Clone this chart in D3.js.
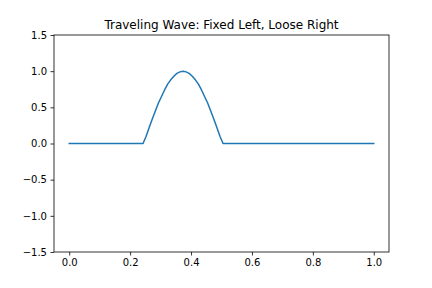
<!DOCTYPE html>
<html>
<head>
<meta charset="utf-8">
<script src="https://cdn.jsdelivr.net/npm/d3@7"></script>
<style>
  body { margin: 0; background: #fff; }
  svg { display: block; font-family: "DejaVu Sans", sans-serif; }
</style>
</head>
<body>
<div id="chart"></div>
<script>
// snapshot of the wave, flat parts only need their end points
var waveX = [0.0, 0.2424, 0.2525, 0.2626, 0.2727, 0.2828, 0.2929, 0.3030, 0.3131, 0.3232, 0.3333,
             0.3434, 0.3535, 0.3636, 0.3737, 0.3838, 0.3939, 0.4040, 0.4141, 0.4242, 0.4343,
             0.4444, 0.4545, 0.4646, 0.4747, 0.4848, 0.4949, 0.5051, 1.0];
var waveY = [0.0, 0.0, 0.10, 0.22, 0.34, 0.45, 0.56, 0.65, 0.74, 0.82, 0.88,
             0.93, 0.97, 0.99, 1.0, 0.99, 0.97, 0.93, 0.88, 0.82, 0.74,
             0.65, 0.56, 0.45, 0.34, 0.22, 0.10, 0.0, 0.0];
var xTicks = [0.0, 0.2, 0.4, 0.6, 0.8, 1.0];
var yTicks = [-1.5, -1.0, -0.5, 0.0, 0.5, 1.0, 1.5];
var title = "Traveling Wave: Fixed Left, Loose Right";

var W = 432, H = 288;
var margin = {left: 54, right: 43, top: 35, bottom: 36};

var svg = d3.select("#chart").append("svg")
    .attr("width", W)
    .attr("height", H);

var x = d3.scaleLinear().domain([-0.05, 1.05]).range([margin.left, W - margin.right]);
var y = d3.scaleLinear().domain([-1.5, 1.5]).range([H - margin.bottom, margin.top]);

// the line
var line = d3.line()
    .x(function (d, i) { return x(waveX[i]); })
    .y(function (d) { return y(d); });

svg.append("path")
    .datum(waveY)
    .attr("d", line)
    .attr("fill", "none")
    .attr("stroke", "#1f77b4")
    .attr("stroke-width", 1.5)
    .attr("stroke-linejoin", "round")
    .attr("stroke-linecap", "square");

// axes
var xAxis = d3.axisBottom(x).tickValues(xTicks).tickFormat(d3.format(".1f"))
    .tickSizeInner(3.5).tickSizeOuter(0).tickPadding(3.5);
var yAxis = d3.axisLeft(y).tickValues(yTicks).tickFormat(function (d) {
        return d3.format(".1f")(d).replace("-", "\u2212");
    })
    .tickSizeInner(3.5).tickSizeOuter(0).tickPadding(3.5);

var gx = svg.append("g")
    .attr("transform", "translate(0," + (H - margin.bottom) + ")")
    .call(xAxis);
var gy = svg.append("g")
    .attr("transform", "translate(" + margin.left + ",0)")
    .call(yAxis);

[gx, gy].forEach(function (g) {
    g.select(".domain").remove();
    g.selectAll(".tick line").attr("stroke", "#000").attr("stroke-width", 0.8);
    g.selectAll(".tick text").attr("fill", "#000").style("font-size", "10px")
        .style("font-family", "DejaVu Sans, sans-serif");
});

// spines
svg.append("rect")
    .attr("x", margin.left)
    .attr("y", margin.top)
    .attr("width", W - margin.left - margin.right)
    .attr("height", H - margin.top - margin.bottom)
    .attr("fill", "none")
    .attr("stroke", "#000")
    .attr("stroke-width", 0.8);

svg.append("text")
    .attr("x", (margin.left + W - margin.right) / 2)
    .attr("y", margin.top - 6)
    .attr("text-anchor", "middle")
    .style("font-size", "12px")
    .attr("fill", "#000")
    .text(title);
</script>
</body>
</html>
